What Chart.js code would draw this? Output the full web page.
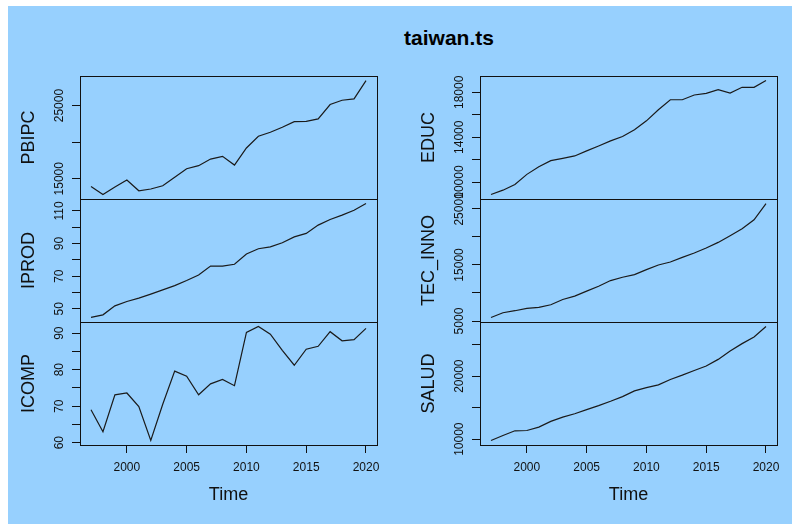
<!DOCTYPE html>
<html>
<head>
<meta charset="utf-8">
<title>taiwan.ts</title>
<script src="https://cdn.jsdelivr.net/npm/chart.js@4/dist/chart.umd.min.js"></script>
<style>
  html, body { margin: 0; padding: 0; background: #ffffff; }
  #page { position: relative; width: 792px; height: 524px; overflow: hidden; }
  #bg { position: absolute; left: 8px; top: 6px; width: 784px; height: 518px; background: #97d0fe; }
  #title { position: absolute; left: 349px; top: 25px; width: 200px; text-align: center;
           font: bold 21px 'Liberation Sans', Arial, sans-serif; line-height: 26px; color: #000; }
  canvas { position: absolute; left: 0; top: 0; }
</style>
</head>
<body>
<div id="page">
  <div id="bg"></div>
  <div id="title">taiwan.ts</div>
  <canvas id="pbipc" width="792" height="524"></canvas>
  <canvas id="iprod" width="792" height="524"></canvas>
  <canvas id="icomp" width="792" height="524"></canvas>
  <canvas id="educ" width="792" height="524"></canvas>
  <canvas id="tecinno" width="792" height="524"></canvas>
  <canvas id="salud" width="792" height="524"></canvas>
</div>
<script>
// Annual series, 1997-2020
const years = [1997, 1998, 1999, 2000, 2001, 2002, 2003, 2004, 2005, 2006, 2007, 2008,
               2009, 2010, 2011, 2012, 2013, 2014, 2015, 2016, 2017, 2018, 2019, 2020];

const PBIPC = [13950, 12850, 13860, 14820, 13350, 13590, 14040, 15200, 16370, 16780, 17690, 18060,
               16870, 19200, 20800, 21350, 22030, 22810, 22850, 23170, 25140, 25730, 25910, 28420];
const IPROD = [44.7, 46.3, 51.8, 54.5, 56.5, 59.0, 61.6, 64.2, 67.3, 70.7, 76.2, 76.2,
               77.3, 83.6, 86.8, 88.0, 90.5, 94.1, 96.2, 101.3, 104.7, 107.4, 110.4, 114.5];
const ICOMP = [69.0, 63.0, 73.1, 73.6, 69.9, 60.6, 70.5, 79.6, 78.2, 73.1, 76.1, 77.3,
               75.6, 90.2, 91.8, 89.7, 85.3, 81.2, 85.6, 86.4, 90.4, 87.9, 88.2, 91.3];
const EDUC = [8900, 9280, 9790, 10690, 11370, 11910, 12120, 12330, 12780, 13220, 13670, 14060,
              14660, 15460, 16450, 17340, 17340, 17760, 17910, 18240, 17940, 18450, 18450, 19050];
const TEC_INNO = [5640, 6480, 6840, 7250, 7430, 7900, 8850, 9440, 10330, 11210, 12220, 12810,
                  13280, 14170, 15000, 15530, 16360, 17130, 18020, 19020, 20210, 21450, 23050, 25950];
const SALUD = [9800, 10590, 11330, 11380, 11920, 12820, 13510, 14040, 14680, 15320, 16010, 16760,
               17660, 18190, 18620, 19470, 20160, 20900, 21600, 22660, 23990, 25160, 26220, 27870];

// Axis ticks (an empty label keeps the tick mark but drops its text)
const yearTicks = [2000, 2005, 2010, 2015, 2020];
const pbipcTicks = [15000, 20000, 25000];
const pbipcLabels = ['15000', '', '25000'];
const iprodTicks = [50, 60, 70, 80, 90, 100, 110];
const iprodLabels = ['50', '', '70', '', '90', '', '110'];
const icompTicks = [60, 65, 70, 75, 80, 85, 90];
const icompLabels = ['60', '', '70', '', '80', '', '90'];
const educTicks = [10000, 12000, 14000, 16000, 18000];
const educLabels = ['10000', '', '14000', '', '18000'];
const tecTicks = [5000, 10000, 15000, 20000, 25000];
const tecLabels = ['5000', '', '15000', '', '25000'];
const saludTicks = [10000, 15000, 20000, 25000];
const saludLabels = ['10000', '', '20000', ''];

const FONT = "'Liberation Sans', Arial, sans-serif";
const TICK_SIZE = 12;
const TITLE_SIZE = 18;
const W = 792, H = 524;
const AXIS_W = 62;     // room left of each panel for ticks, labels and the axis name
const X_H = 61;        // room under the bottom panels for year labels and "Time"
const TICK_LEN = 8;
const LABEL_GAP = 20;  // distance from the axis line to the centre of rotated y labels

const measureCtx = document.createElement('canvas').getContext('2d');
function widestLabel(labels) {
  measureCtx.font = 'normal ' + TICK_SIZE + 'px ' + FONT;
  return Math.max(...labels.map(l => measureCtx.measureText(l).width));
}

// Box around each panel, as in base R graphics
const framePlugin = {
  id: 'frame',
  afterDatasetsDraw(chart) {
    const { ctx, chartArea: a } = chart;
    ctx.save();
    ctx.strokeStyle = '#111';
    ctx.lineWidth = 1;
    ctx.strokeRect(Math.round(a.left) + 0.5, Math.round(a.top) + 0.5,
                   Math.round(a.right - a.left), Math.round(a.bottom - a.top));
    ctx.restore();
  }
};

const xLo = years[0] - (years[years.length - 1] - years[0]) * 0.04;
const xHi = years[years.length - 1] + (years[years.length - 1] - years[0]) * 0.04;

function panel(id, name, values, ticks, labels, rect, showX) {
  const lo = Math.min(...values), hi = Math.max(...values);
  const ext = (hi - lo) * 0.04;
  const yPad = LABEL_GAP - TICK_LEN - widestLabel(labels) / 2;
  const gridOpts = { drawOnChartArea: false, drawTicks: true, tickLength: TICK_LEN, color: '#111', lineWidth: 1 };

  new Chart(document.getElementById(id), {
    type: 'line',
    data: {
      datasets: [{
        label: name,
        data: years.map((yr, i) => ({ x: yr, y: values[i] })),
        borderColor: '#1a1a1a',
        borderWidth: 1.2,
        pointRadius: 0,
        tension: 0,
        fill: false
      }]
    },
    options: {
      responsive: false,
      animation: false,
      events: [],
      layout: {
        padding: {
          left: rect.left - AXIS_W,
          top: rect.top,
          right: W - rect.right,
          bottom: H - rect.bottom - (showX ? X_H : 0)
        }
      },
      plugins: { legend: { display: false }, tooltip: { enabled: false }, title: { display: false } },
      scales: {
        x: {
          type: 'linear',
          display: showX,
          min: xLo,
          max: xHi,
          bounds: 'data',
          afterBuildTicks: s => { s.ticks = yearTicks.map(v => ({ value: v })); },
          afterFit: s => { s.height = showX ? X_H : 0; },
          grid: gridOpts,
          border: { display: false },
          ticks: {
            autoSkip: false, maxRotation: 0, padding: 7, color: '#111',
            font: { family: FONT, size: TICK_SIZE },
            callback: v => String(v)
          },
          title: {
            display: true, text: 'Time', color: '#111', padding: 0,
            font: { family: FONT, size: TITLE_SIZE }
          }
        },
        y: {
          type: 'linear',
          min: lo - ext,
          max: hi + ext,
          bounds: 'data',
          afterBuildTicks: s => { s.ticks = ticks.map(v => ({ value: v })); },
          afterFit: s => { s.width = AXIS_W; },
          grid: gridOpts,
          border: { display: false },
          ticks: {
            autoSkip: false, minRotation: 90, maxRotation: 90, crossAlign: 'center',
            padding: yPad, color: '#111',
            font: { family: FONT, size: TICK_SIZE },
            callback: (v, i) => labels[i]
          },
          title: {
            display: true, text: name, color: '#111', padding: { top: 0.5, bottom: 0 },
            font: { family: FONT, size: TITLE_SIZE }
          }
        }
      }
    },
    plugins: [framePlugin]
  });
}

const leftCol = { left: 80, right: 377 };
const rightCol = { left: 480, right: 777 };
const rows = [{ top: 76, bottom: 199 }, { top: 199, bottom: 322 }, { top: 322, bottom: 445 }];
const r = (col, row) => Object.assign({}, col, row);

panel('pbipc', 'PBIPC', PBIPC, pbipcTicks, pbipcLabels, r(leftCol, rows[0]), false);
panel('iprod', 'IPROD', IPROD, iprodTicks, iprodLabels, r(leftCol, rows[1]), false);
panel('icomp', 'ICOMP', ICOMP, icompTicks, icompLabels, r(leftCol, rows[2]), true);
panel('educ', 'EDUC', EDUC, educTicks, educLabels, r(rightCol, rows[0]), false);
panel('tecinno', 'TEC_INNO', TEC_INNO, tecTicks, tecLabels, r(rightCol, rows[1]), false);
panel('salud', 'SALUD', SALUD, saludTicks, saludLabels, r(rightCol, rows[2]), true);
</script>
</body>
</html>
